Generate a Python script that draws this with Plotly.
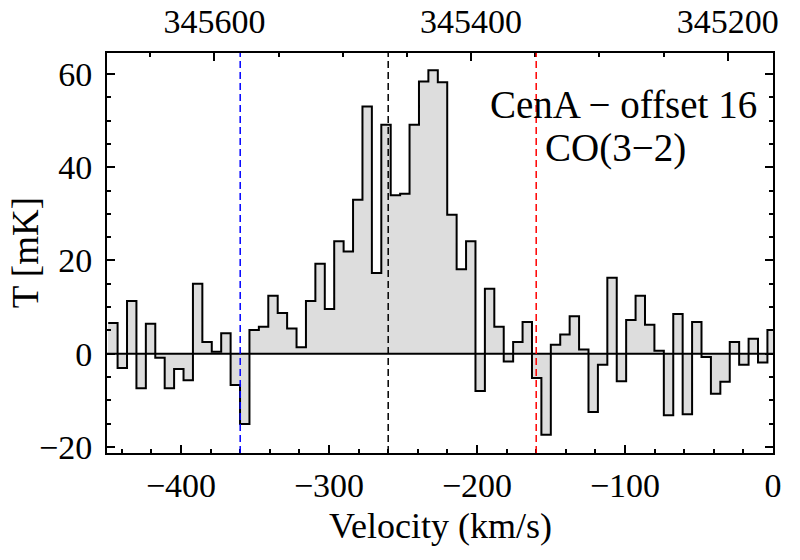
import plotly.graph_objects as go

# ---- data ----
velocity = [-446.02, -439.66, -433.29, -426.93, -420.57, -414.20, -407.84, -401.48, -395.11, -388.75,
            -382.39, -376.02, -369.66, -363.30, -356.93, -350.57, -344.21, -337.84, -331.48, -325.12,
            -318.75, -312.39, -306.03, -299.66, -293.30, -286.94, -280.57, -274.21, -267.85, -261.48,
            -255.12, -248.76, -242.39, -236.03, -229.67, -223.30, -216.94, -210.58, -204.21, -197.85,
            -191.49, -185.12, -178.76, -172.40, -166.03, -159.67, -153.31, -146.94, -140.58, -134.22,
            -127.85, -121.49, -115.13, -108.76, -102.40, -96.04, -89.67, -83.31, -76.95, -70.58,
            -64.22, -57.86, -51.49, -45.13, -38.77, -32.40, -26.04, -19.68, -13.31, -6.95, -0.59]
temperature = [6.6, -3.1, 11.3, -7.4, 6.4, -0.9, -7.4, -3.3, -5.7, 15.0,
               2.5, 0.4, 4.4, -6.7, -15.1, 5.1, 5.8, 12.4, 8.7, 5.4,
               1.4, 11.3, 19.3, 9.6, 24.1, 21.9, 33.0, 53.0, 17.3, 49.1,
               34.0, 34.3, 49.1, 58.4, 60.8, 58.2, 29.8, 18.1, 24.1, -8.0,
               13.9, 5.8, -1.7, 2.5, 6.8, -5.2, -17.4, 1.9, 4.1, 8.0,
               0.9, -12.5, -2.4, 16.3, -5.9, 7.2, 12.4, 6.2, 0.6, -13.2,
               8.5, -13.0, 6.8, -0.7, -8.6, -6.0, 2.5, -2.4, 3.2, -1.9, 5.1]
channel_width = 6.363
marker_velocities = [-360, -260, -160]
marker_colors = ["#0000ff", "#000000", "#ff0000"]
freq_ticks = [345600, 345400, 345200]
vel_range = [-450, 0]
temp_range = [-21.31, 64.5]
freq_range = [345683.7, 345164.7]  # matches vel_range
title_lines = ["CenA − offset 16", "CO(3−2)"]

FONT = "Liberation Serif"

# step outline built from channel centres
edges = [v - channel_width / 2 for v in velocity] + [velocity[-1] + channel_width / 2]
step_y = temperature + [temperature[-1]]

fig = go.Figure()
fig.add_trace(go.Bar(x=velocity, y=temperature, width=channel_width,
                     marker=dict(color="#dddddd", line=dict(width=0)),
                     showlegend=False, hoverinfo="skip"))
fig.add_trace(go.Scatter(x=edges, y=step_y, mode="lines", line_shape="hv",
                         line=dict(color="black", width=2), showlegend=False))
# invisible trace for the frequency axis
fig.add_trace(go.Scatter(x=freq_range, y=[0, 0], xaxis="x2", mode="lines",
                         line=dict(width=0), showlegend=False, hoverinfo="skip"))

# zero line
fig.add_shape(type="line", xref="paper", yref="y", x0=0, x1=1, y0=0, y1=0,
              line=dict(color="black", width=2), layer="above")
for v, c in zip(marker_velocities, marker_colors):
    fig.add_shape(type="line", xref="x", yref="paper", x0=v, x1=v, y0=0, y1=1,
                  line=dict(color=c, width=1.5, dash="7px,4px"), layer="above")

fig.add_annotation(text=title_lines[0], xref="paper", yref="paper", x=0.776, y=0.871,
                   xanchor="center", yanchor="middle", showarrow=False,
                   font=dict(family=FONT, size=39, color="black"))
fig.add_annotation(text=title_lines[1], xref="paper", yref="paper", x=0.763, y=0.763,
                   xanchor="center", yanchor="middle", showarrow=False,
                   font=dict(family=FONT, size=39, color="black"))
fig.add_annotation(text="Velocity (km/s)", xref="paper", yref="paper", x=0.5, y=-0.182,
                   xanchor="center", yanchor="middle", showarrow=False,
                   font=dict(family=FONT, size=36, color="black"))
fig.add_annotation(text="T [mK]", xref="paper", yref="paper", x=-0.1226, y=0.5,
                   xanchor="center", yanchor="middle", showarrow=False, textangle=-90,
                   font=dict(family=FONT, size=37, color="black"))

axis_common = dict(showline=True, linecolor="black", linewidth=2, showgrid=False,
                   zeroline=False, ticks="inside", tickcolor="black", tickwidth=1.5,
                   ticklen=8, automargin=False,
                   tickfont=dict(family=FONT, size=34, color="black"))

fig.update_layout(
    width=800, height=560,
    margin=dict(l=107, r=27, t=53, b=107),
    paper_bgcolor="white", plot_bgcolor="white",
    bargap=0,
    xaxis=dict(range=vel_range, tickmode="linear", tick0=0, dtick=100, mirror=True,
               minor=dict(dtick=20, tick0=0, ticks="inside", ticklen=4, tickcolor="black",
                          tickwidth=1.5, showgrid=False),
               ticklabelstandoff=1, **axis_common),
    xaxis2=dict(range=freq_range, overlaying="x", side="top", anchor="y",
                tickmode="array", tickvals=freq_ticks, tickformat="d",
                minor=dict(dtick=50, tick0=345200, ticks="inside", ticklen=4,
                           tickcolor="black", tickwidth=1.5, showgrid=False),
                ticklabelstandoff=4, **axis_common),
    yaxis=dict(range=temp_range, tickmode="linear", tick0=0, dtick=20, mirror="ticks",
               minor=dict(dtick=5, tick0=0, ticks="inside", ticklen=4, tickcolor="black",
                          tickwidth=1.5, showgrid=False),
               ticklabelstandoff=6, **axis_common),
)

fig.write_html("out.html")
